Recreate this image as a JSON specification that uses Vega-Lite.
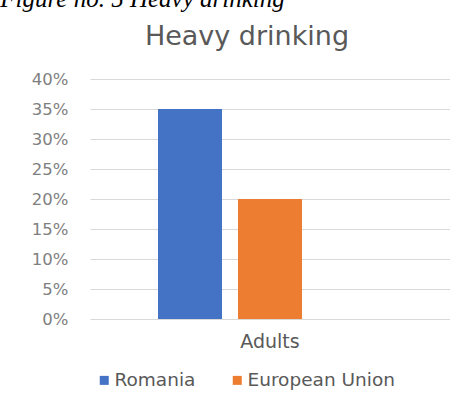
{
  "$schema": "https://vega.github.io/schema/vega-lite/v6.json",
  "padding": {"top": -13, "left": 0, "right": 0, "bottom": 0},
  "background": "white",
  "title": {
    "text": "Figure no. 5 Heavy drinking",
    "anchor": "start",
    "frame": "bounds",
    "font": "Liberation Serif",
    "fontStyle": "italic",
    "fontWeight": "normal",
    "fontSize": 25,
    "color": "black",
    "dx": -31,
    "offset": 11
  },
  "vconcat": [
    {
      "width": 360,
      "height": 240,
      "title": {
        "text": "Heavy drinking",
        "font": "DejaVu Sans",
        "fontSize": 27,
        "fontWeight": "normal",
        "color": "#595959",
        "anchor": "middle",
        "dx": -23,
        "offset": 20
      },
      "data": {
        "values": [
          {"group": "Adults", "series": "Romania", "value": 0.35},
          {"group": "Adults", "series": "European Union", "value": 0.20}
        ]
      },
      "mark": {"type": "bar"},
      "encoding": {
        "x": {
          "field": "group",
          "type": "nominal",
          "scale": {"paddingInner": 0, "paddingOuter": 0},
          "axis": {
            "title": null,
            "labelAngle": 0,
            "ticks": false,
            "domain": false,
            "labelFont": "DejaVu Sans",
            "labelFontSize": 19,
            "labelColor": "#595959",
            "labelPadding": 13
          }
        },
        "xOffset": {
          "field": "series",
          "type": "nominal",
          "scale": {"domain": ["Romania", "European Union", "_"], "paddingInner": 0.2, "paddingOuter": 0.85}
        },
        "y": {
          "field": "value",
          "type": "quantitative",
          "scale": {"domain": [0, 0.4]},
          "axis": {
            "title": null,
            "format": ".0%",
            "values": [0, 0.05, 0.1, 0.15, 0.2, 0.25, 0.3, 0.35, 0.4],
            "domain": false,
            "ticks": false,
            "gridColor": "#d9d9d9",
            "labelPadding": 22,
            "labelFont": "DejaVu Sans",
            "labelFontSize": 16.5,
            "labelColor": "#7f7f7f"
          }
        },
        "color": {
          "field": "series",
          "type": "nominal",
          "scale": {"domain": ["Romania", "European Union"], "range": ["#4472C4", "#ED7D31"]},
          "legend": {
            "title": null,
            "orient": "none",
            "legendX": 5,
            "legendY": 292,
            "direction": "horizontal",
            "symbolType": "square",
            "symbolSize": 81,
            "symbolStrokeWidth": 0,
            "labelOffset": 1,
            "labelFont": "DejaVu Sans",
            "labelFontSize": 18.5,
            "labelColor": "#595959",
            "columnPadding": 32
          }
        }
      }
    }
  ],
  "config": {"view": {"stroke": null}, "concat": {"spacing": 0}}
}
